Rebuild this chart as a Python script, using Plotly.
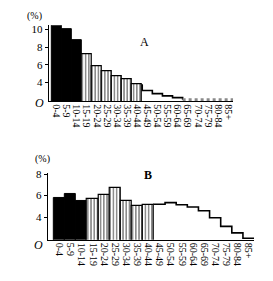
import plotly.graph_objects as go

W, H = 273, 281

categories = ["0-4", "5-9", "10-14", "15-19", "20-24", "25-29", "30-34", "35-39",
              "40-44", "45-49", "50-54", "55-59", "60-64", "65-69", "70-74",
              "75-79", "80-84", "85+"]

a_values = [10.45, 10.1, 8.8, 7.2, 5.9, 5.35, 4.7, 4.4, 3.8,
            3.1, 2.75, 2.5, 2.3, 2.07, 2.07, 2.07, 2.07, 2.07]
b_values = [5.82, 6.2, 5.55, 5.7, 6.1, 6.75, 5.5, 5.0, 5.15,
            5.2, 5.35, 5.15, 4.95, 4.6, 3.95, 3.15, 2.55, 2.05]

a_yticks = [4, 6, 8, 10]
b_yticks = [4, 6, 8]

N_BLACK = 3      # 0-14
N_STRIPE = 6     # 15-44
A_STEP_END = 13  # A: from 65-69 on, drawn as grey dotted band

SERIF = "Liberation Serif"


def px_x(p):
    return p / W


def px_y(p):
    return 1 - p / H


fig = go.Figure()


def add_panel(vals, xa, ya, grey_from=None):
    idx = list(range(len(vals)))
    black = idx[:N_BLACK]
    stripe = idx[N_BLACK:N_BLACK + N_STRIPE]
    fig.add_trace(go.Bar(x=black, y=[vals[i] for i in black], width=1,
                         marker=dict(color="black", line=dict(color="black", width=1)),
                         xaxis=xa, yaxis=ya, showlegend=False))
    fig.add_trace(go.Bar(x=stripe, y=[vals[i] for i in stripe], width=1,
                         marker=dict(color="white",
                                     line=dict(color="black", width=1.2),
                                     pattern=dict(shape="|", fgcolor="black",
                                                  bgcolor="white", size=3.2,
                                                  solidity=0.45)),
                         xaxis=xa, yaxis=ya, showlegend=False))
    start = N_BLACK + N_STRIPE
    end = grey_from if grey_from is not None else len(vals)
    sx = [start - 0.5] + [i - 0.5 for i in range(start, end)]
    sy = [vals[start - 1]] + [vals[i] for i in range(start, end)]
    if grey_from is not None:
        sx += [grey_from - 0.5]
        sy += [vals[grey_from]]
    else:
        sx += [end - 0.5]
        sy += [vals[end - 1]]
    fig.add_trace(go.Scatter(x=sx, y=sy, mode="lines", line_shape="hv",
                             line=dict(color="black", width=1.6),
                             xaxis=xa, yaxis=ya, showlegend=False,
                             cliponaxis=False))
    if grey_from is not None:
        gx = [i - 0.5 for i in range(grey_from, len(vals))] + [len(vals) - 0.5]
        gy = [vals[i] for i in range(grey_from, len(vals))] + [vals[-1]]
        fig.add_trace(go.Scatter(x=gx, y=gy, mode="lines", line_shape="hv",
                                 line=dict(color="#8a8a8a", width=3, dash="dot"),
                                 xaxis=xa, yaxis=ya, showlegend=False,
                                 cliponaxis=False))


add_panel(a_values, "x", "y", grey_from=A_STEP_END)
add_panel(b_values, "x2", "y2")

xcommon = dict(tickmode="array", tickvals=list(range(len(categories))),
               ticktext=categories, tickangle=90, ticks="",
               showline=True, linecolor="black", linewidth=1,
               showgrid=False, zeroline=False,
               tickfont=dict(family=SERIF, size=10, color="black"))
ycommon = dict(showline=True, linecolor="black", linewidth=1.2,
               showgrid=False, zeroline=False, ticks="outside",
               ticklen=3, tickcolor="black", tickwidth=1,
               tickfont=dict(family=SERIF, size=11, color="black"))

fig.update_layout(
    width=W, height=H,
    margin=dict(l=0, r=0, t=0, b=0),
    paper_bgcolor="white", plot_bgcolor="white",
    bargap=0,
    xaxis=dict(domain=[px_x(49), px_x(234)], range=[-0.75, 17.5],
               anchor="y", **xcommon),
    yaxis=dict(domain=[px_y(98), px_y(20.5)], range=[1.89, 10.5],
               anchor="x", tickvals=a_yticks,
               ticktext=[str(v) for v in a_yticks], **ycommon),
    xaxis2=dict(domain=[px_x(48), px_x(255)], range=[-1.04, 17.5],
                anchor="y2", **xcommon),
    yaxis2=dict(domain=[px_y(239), px_y(171)], range=[1.91, 8.1],
                anchor="x2", tickvals=b_yticks,
                ticktext=[str(v) for v in b_yticks], **ycommon),
)

annos = [
    ("(%)", 35, 11, 10, False, False),
    ("A", 145, 38, 12, False, False),
    ("O", 40, 100, 12, True, False),
    ("(%)", 43, 157, 10, False, False),
    ("B", 149, 173, 12, False, True),
    ("O", 39, 244, 12, True, False),
]
for text, x, y, size, ital, bold in annos:
    t = text
    if ital:
        t = "<i>" + t + "</i>"
    if bold:
        t = "<b>" + t + "</b>"
    fig.add_annotation(text=t, xref="paper", yref="paper",
                       x=px_x(x), y=px_y(y), showarrow=False,
                       xanchor="center", yanchor="middle",
                       font=dict(family=SERIF, size=size, color="black"))

fig.write_html("out.html")
